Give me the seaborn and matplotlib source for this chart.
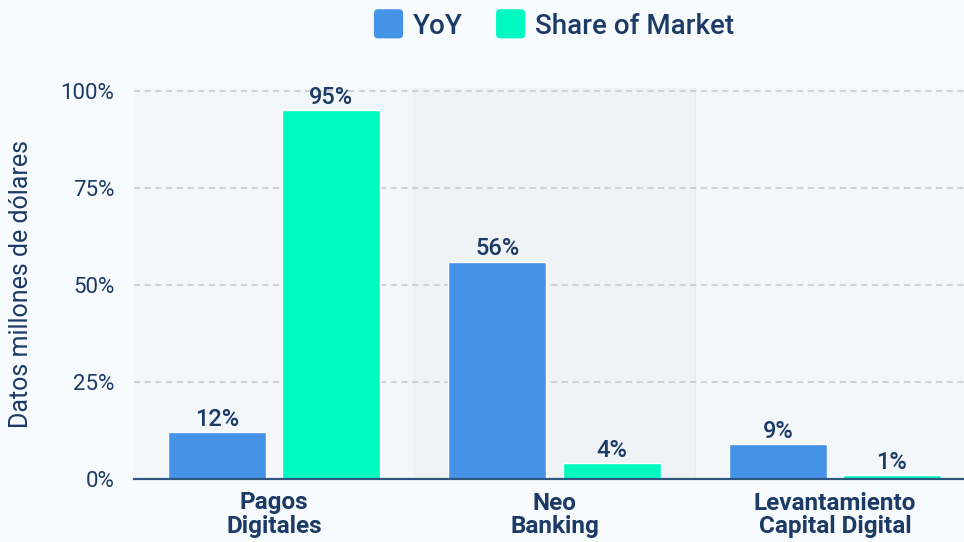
import matplotlib
matplotlib.use("Agg")
import matplotlib.pyplot as plt
import seaborn as sns
import pandas as pd
from matplotlib.patches import FancyBboxPatch, Rectangle
from matplotlib.legend_handler import HandlerPatch

categories = ["Pagos\nDigitales", "Neo\nBanking", "Levantamiento\nCapital Digital"]
series_names = ["YoY", "Share of Market"]
yoy = [12, 56, 9]
share = [95, 4, 1]
yticks = [0, 25, 50, 75, 100]
ytick_labels = ["0%", "25%", "50%", "75%", "100%"]
ylabel = "Datos millones de dólares"

colors = {"YoY": "#4493e6", "Share of Market": "#00f9c0"}
text_color = "#1b3a66"
fig_bg = "#f8fbfe"
band_colors = ["#f4f7fa", "#eff3f6", "#f4f7fa"]

df = pd.DataFrame({
    "categoria": categories * 2,
    "serie": [series_names[0]] * 3 + [series_names[1]] * 3,
    "valor": yoy + share,
})

sns.set_theme(style="white")
plt.rcParams["font.family"] = ["Roboto", "DejaVu Sans"]

fig = plt.figure(figsize=(9.64, 5.42), dpi=100, facecolor=fig_bg)
W, H = 964, 542
ax = fig.add_axes([134 / W, (H - 479) / H, (975 - 134) / W, (479 - 88) / H])
ax.set_facecolor(fig_bg)

sns.barplot(data=df, x="categoria", y="valor", hue="serie", order=categories,
            hue_order=series_names, palette=colors, width=0.814, gap=0.141,
            saturation=1, ax=ax, legend=False, zorder=3)

# alternating category bands
for i, c in enumerate(band_colors):
    ax.axvspan(i - 0.5, i + 0.5, color=c, zorder=0, lw=0)
    if i > 0:
        ax.axvline(i - 0.5, color="#e9edf1", lw=0.8, zorder=0.5)

ax.set_xlim(-0.5, 2.5)
ax.set_ylim(0, 100.8)
ax.set_yticks(yticks)
ax.set_yticklabels(ytick_labels)
for y in yticks[1:]:
    ax.axhline(y, color="#c3c7cc", lw=1.1, ls=(0, (4, 3)), zorder=1)

for cont in ax.containers:
    ax.bar_label(cont, labels=[f"{v:.0f}%" for v in cont.datavalues],
                 padding=1, color=text_color, fontsize=17, fontweight="medium")

for s in ["top", "right", "left"]:
    ax.spines[s].set_visible(False)
ax.spines["bottom"].set_color("#2f5680")
ax.spines["bottom"].set_linewidth(1.6)
ax.spines["bottom"].set_zorder(4)

ax.tick_params(axis="y", length=0, pad=14, labelsize=16, labelcolor=text_color)
ax.tick_params(axis="x", length=0, pad=9, labelsize=17.5, labelcolor=text_color)
for t in ax.get_xticklabels():
    t.set_fontweight("semibold")
    t.set_linespacing(1.05)
ax.set_xlabel("")
ax.set_ylabel(ylabel, fontsize=18, color=text_color, labelpad=20)


class RoundedHandler(HandlerPatch):
    def create_artists(self, legend, orig_handle, xdescent, ydescent,
                       width, height, fontsize, trans):
        cy = -ydescent + height / 2
        p = FancyBboxPatch((-xdescent, cy - width / 2), width, width,
                           boxstyle="round,pad=0,rounding_size=3",
                           facecolor=orig_handle.get_facecolor(), edgecolor="none",
                           transform=trans)
        return [p]


handles = [Rectangle((0, 0), 1, 1, facecolor=colors[s]) for s in series_names]
leg = fig.legend(handles, series_names, loc="center", bbox_to_anchor=(554 / W, 1 - 26 / H),
                 ncol=2, frameon=False, fontsize=20, handlelength=1.05, handleheight=0.75,
                 handletextpad=0.35, columnspacing=1.2,
                 handler_map={Rectangle: RoundedHandler()})
for t in leg.get_texts():
    t.set_color(text_color)
    t.set_fontweight("medium")

fig.savefig("out.png", dpi=100, facecolor=fig_bg)
